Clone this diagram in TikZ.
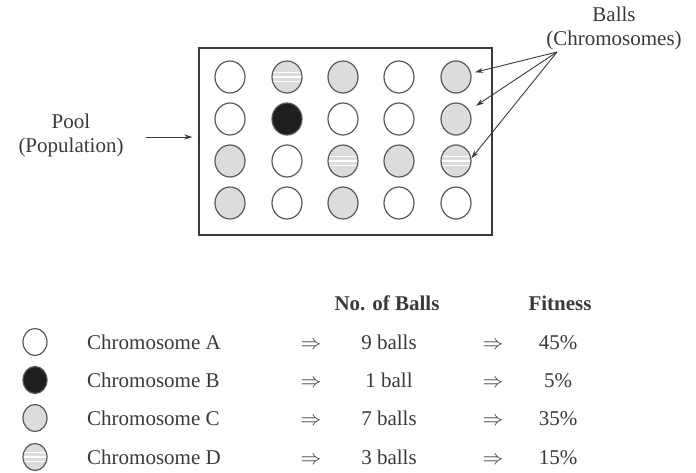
\documentclass[tikz,border=0pt]{standalone}
\usepackage{fontspec}
\setmainfont{Liberation Serif}
\usetikzlibrary{arrows.meta,shapes.geometric}
\definecolor{ink}{HTML}{3A3A3A}
\definecolor{cfill}{HTML}{DCDCDC}
\definecolor{bfill}{HTML}{1E1E1E}
\tikzset{
  ball/.style={ellipse, draw=ink!85, line width=1.2pt, minimum width=30pt, minimum height=32pt, inner sep=0pt},
  ballA/.style={ball, fill=white},
  ballB/.style={ball, fill=bfill},
  ballC/.style={ball, fill=cfill},
  ballD/.style={ball, fill=cfill, path picture={
      \foreach \d in {-4.5,0,4.5}{
        \draw[white, line width=1.3pt] ([yshift=\d pt]path picture bounding box.west) -- ([yshift=\d pt]path picture bounding box.east);}}},
  small/.style={minimum width=24pt, minimum height=27pt},
  lbl/.style={font=\fontsize{21}{24}\selectfont, text=ink, inner sep=0pt},
  arr/.style={draw=ink, line width=0.9pt, -{Stealth[length=8pt,width=5pt]}},
  pool/.style={draw=ink, line width=1.4pt, minimum width=293pt, minimum height=187pt, inner sep=0pt}
}
\begin{document}
\begin{tikzpicture}[x=1pt,y=-1pt]
\useasboundingbox (0,0) rectangle (696,473);
\fill[white] (0,0) rectangle (696,473);

% pool box
\node[pool] (box) at (345.5,141.5) {};

% balls grid
\node[ballA] (c11) at (230,77) {};
\node[ballD] (c12) at (287,77) {};
\node[ballC] (c13) at (343,77) {};
\node[ballA] (c14) at (399,77) {};
\node[ballC] (c15) at (456,77) {};

\node[ballA] (c21) at (230,119) {};
\node[ballB] (c22) at (287,119) {};
\node[ballA] (c23) at (343,119) {};
\node[ballA] (c24) at (399,119) {};
\node[ballC] (c25) at (456,119) {};

\node[ballC] (c31) at (230,161) {};
\node[ballA] (c32) at (287,161) {};
\node[ballD] (c33) at (343,161) {};
\node[ballC] (c34) at (399,161) {};
\node[ballD] (c35) at (456,161) {};

\node[ballC] (c41) at (230,203) {};
\node[ballA] (c42) at (287,203) {};
\node[ballC] (c43) at (343,203) {};
\node[ballA] (c44) at (399,203) {};
\node[ballA] (c45) at (456,203) {};

% labels
\node[lbl, align=center] (poollbl) at (71,135) {Pool\\(Population)};
\node[lbl, align=center] (ballslbl) at (614,28) {Balls\\(Chromosomes)};

\coordinate (pa) at (146,137);
\draw[arr, shorten >=6pt] (pa) -- (pa -| box.west);

\coordinate (bl) at (557,52);
\draw[arr, shorten >=4pt] (bl) -- (c15);
\draw[arr, shorten >=8pt] (bl) -- (c25);
\draw[arr] (bl) -- (c35.10);

% table header
\node[lbl, anchor=base] (hballs) at (387,310) {\textbf{No. of Balls}};
\node[lbl, anchor=base] (hfit) at (560,310) {\textbf{Fitness}};

% legend rows
\node[ballA, small] (l1) at (35,342) {};
\node[ballB, small] (l2) at (35,380) {};
\node[ballC, small] (l3) at (35,418) {};
\node[ballD, small] (l4) at (35,457) {};

\node[lbl, anchor=base west] (n1) at (87,349) {Chromosome A};
\node[lbl, anchor=base west] (n2) at (87,387) {Chromosome B};
\node[lbl, anchor=base west] (n3) at (87,425) {Chromosome C};
\node[lbl, anchor=base west] (n4) at (87,464) {Chromosome D};

\node[lbl, anchor=base] (a1) at (311,349) {$\Rightarrow$};
\node[lbl, anchor=base] (a2) at (311,387) {$\Rightarrow$};
\node[lbl, anchor=base] (a3) at (311,425) {$\Rightarrow$};
\node[lbl, anchor=base] (a4) at (311,464) {$\Rightarrow$};

\node[lbl, anchor=base] (b1) at (389,349) {9 balls};
\node[lbl, anchor=base] (b2) at (389,387) {1 ball};
\node[lbl, anchor=base] (b3) at (389,425) {7 balls};
\node[lbl, anchor=base] (b4) at (389,464) {3 balls};

\node[lbl, anchor=base] (d1) at (493,349) {$\Rightarrow$};
\node[lbl, anchor=base] (d2) at (493,387) {$\Rightarrow$};
\node[lbl, anchor=base] (d3) at (493,425) {$\Rightarrow$};
\node[lbl, anchor=base] (d4) at (493,464) {$\Rightarrow$};

\node[lbl, anchor=base] (f1) at (558,349) {45\%};
\node[lbl, anchor=base] (f2) at (558,387) {5\%};
\node[lbl, anchor=base] (f3) at (558,425) {35\%};
\node[lbl, anchor=base] (f4) at (558,464) {15\%};
\end{tikzpicture}
\end{document}
